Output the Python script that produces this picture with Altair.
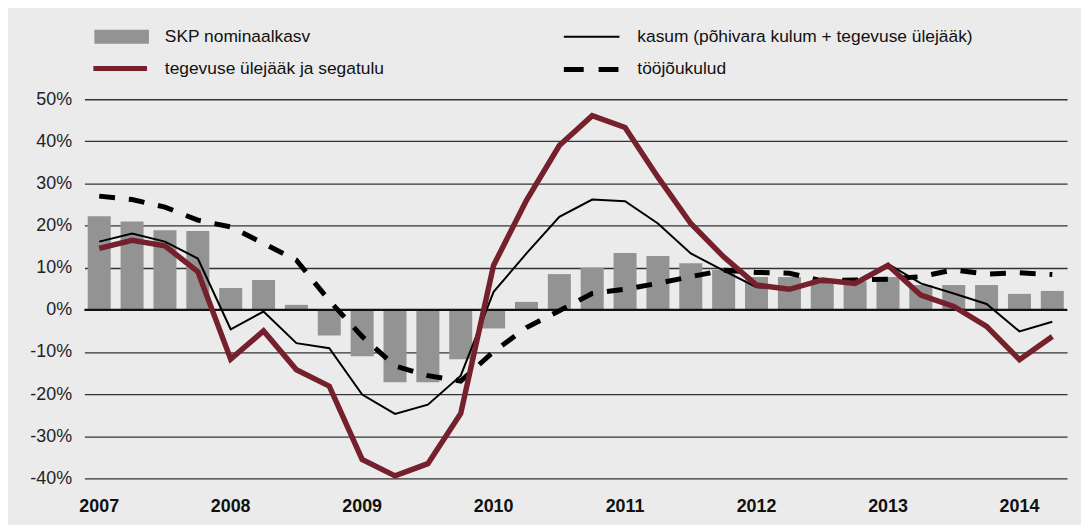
import altair as alt
import pandas as pd

quarters = [f"{y} Q{q}" for y in range(2007, 2015) for q in range(1, 5)][:30]

skp = [22.2, 21.0, 18.9, 18.7, 5.2, 7.1, 1.2, -6.1, -11.0, -17.2, -17.2, -11.7, -4.4, 1.9,
       8.5, 10.0, 13.5, 12.8, 11.1, 9.5, 7.8, 7.8, 7.1, 6.8, 7.8, 5.9, 5.9, 5.9, 3.8, 4.5]
kasum = [16.2, 18.1, 16.2, 12.2, -4.6, -0.4, -7.9, -9.1, -20.1, -24.7, -22.5, -15.6, 4.3, 13.4,
         22.1, 26.2, 25.8, 20.5, 13.4, 9.3, 5.4, 5.0, 7.0, 6.6, 10.9, 6.3, 3.9, 1.4, -5.1, -2.8]
tegevus = [14.6, 16.5, 15.2, 9.1, -11.7, -5.0, -14.2, -18.1, -35.5, -39.4, -36.5, -24.6, 10.6, 26.0,
           39.0, 46.1, 43.3, 31.5, 20.5, 12.6, 5.9, 4.9, 7.1, 6.3, 10.6, 3.5, 0.8, -3.9, -11.8, -6.3]
toojou = [27.0, 26.2, 24.4, 21.3, 19.7, 15.8, 11.8, 2.2, -6.3, -13.3, -15.6, -16.9, -9.9, -4.2,
          -0.2, 3.9, 4.9, 6.3, 7.9, 9.4, 8.9, 8.7, 6.9, 7.1, 7.3, 7.9, 9.5, 8.5, 8.8, 8.4]

names = ["SKP nominaalkasv", "tegevuse ülejääk ja segatulu",
         "kasum (põhivara kulum + tegevuse ülejääk)", "tööjõukulud"]

df = pd.DataFrame({"q": quarters, "skp": skp, "kasum": kasum, "tegevus": tegevus, "toojou": toojou})

FONT = "Liberation Sans"

xaxis = alt.Axis(
    title=None, ticks=False, domain=False, labelAngle=0,
    labelExpr="indexof(datum.value, 'Q1') >= 0 ? slice(datum.value, 0, 4) : ''",
    labelFontWeight="bold", labelFontSize=18, labelPadding=19, labelColor="#111",
    labelFont=FONT, grid=False,
)
xscale = alt.Scale(paddingInner=0.3, paddingOuter=0.1)
yscale = alt.Scale(domain=[-40, 50], nice=False)
yaxis = alt.Axis(
    title=None, ticks=False, domain=False, values=list(range(-40, 51, 10)),
    labelExpr="datum.value + '%'", labelFontSize=18, labelPadding=13, labelColor="#222",
    labelFont=FONT, grid=True, gridColor="#333333", gridWidth=1.3,
)

base = alt.Chart(df)

bars = base.mark_bar(color="#939393").encode(
    x=alt.X("q:N", sort=quarters, scale=xscale, axis=xaxis),
    y=alt.Y("skp:Q", scale=yscale, axis=yaxis),
)

zero = alt.Chart(pd.DataFrame({"v": [0]})).mark_rule(color="#111", strokeWidth=2.4).encode(
    y=alt.Y("v:Q", scale=yscale)
)

def line(field, **kw):
    return base.mark_line(**kw).encode(
        x=alt.X("q:N", sort=quarters, scale=xscale, axis=xaxis, bandPosition=0.5),
        y=alt.Y(f"{field}:Q", scale=yscale, axis=yaxis),
    )

dashed = line("toojou", color="#000", strokeWidth=5, strokeDash=[16, 14])
black = line("kasum", color="#000", strokeWidth=2)
red = line("tegevus", color="#75202d", strokeWidth=5.5)

# legend (manual, placed above plot area)
leg_rect = alt.Chart(pd.DataFrame({"n": [names[0]]})).mark_rect(color="#939393").encode(
    x=alt.value(10), x2=alt.value(65), y=alt.value(-70), y2=alt.value(-56)
)
leg_red = alt.Chart(pd.DataFrame({"n": [names[1]]})).mark_rule(color="#75202d", strokeWidth=5).encode(
    x=alt.value(9), x2=alt.value(63), y=alt.value(-31)
)
leg_black = alt.Chart(pd.DataFrame({"n": [names[2]]})).mark_rule(color="#000", strokeWidth=2).encode(
    x=alt.value(483), x2=alt.value(539), y=alt.value(-63)
)
leg_dash = alt.Chart(pd.DataFrame({"n": [names[3]]})).mark_rule(
    color="#000", strokeWidth=5, strokeDash=[20, 15]).encode(
    x=alt.value(483), x2=alt.value(539), y=alt.value(-30)
)

def leg_text(name, x, y):
    return alt.Chart(pd.DataFrame({"n": [name]})).mark_text(
        align="left", baseline="middle", fontSize=17.5, font=FONT, color="#111"
    ).encode(text="n:N", x=alt.value(x), y=alt.value(y))

texts = (leg_text(names[0], 81, -63) + leg_text(names[1], 81, -30)
         + leg_text(names[2], 557, -63) + leg_text(names[3], 557, -30))

chart = alt.layer(
    bars, zero, dashed, black, red, leg_rect, leg_red, leg_black, leg_dash, texts
).properties(
    width=990, height=382,
    autosize=alt.AutoSizeParams(type="none"),
    padding={"left": 77, "top": 90, "right": 14, "bottom": 45},
    background="#ebebeb",
).configure_view(stroke=None)

chart.save("out.html", embed_options={"renderer": "svg", "actions": False})
